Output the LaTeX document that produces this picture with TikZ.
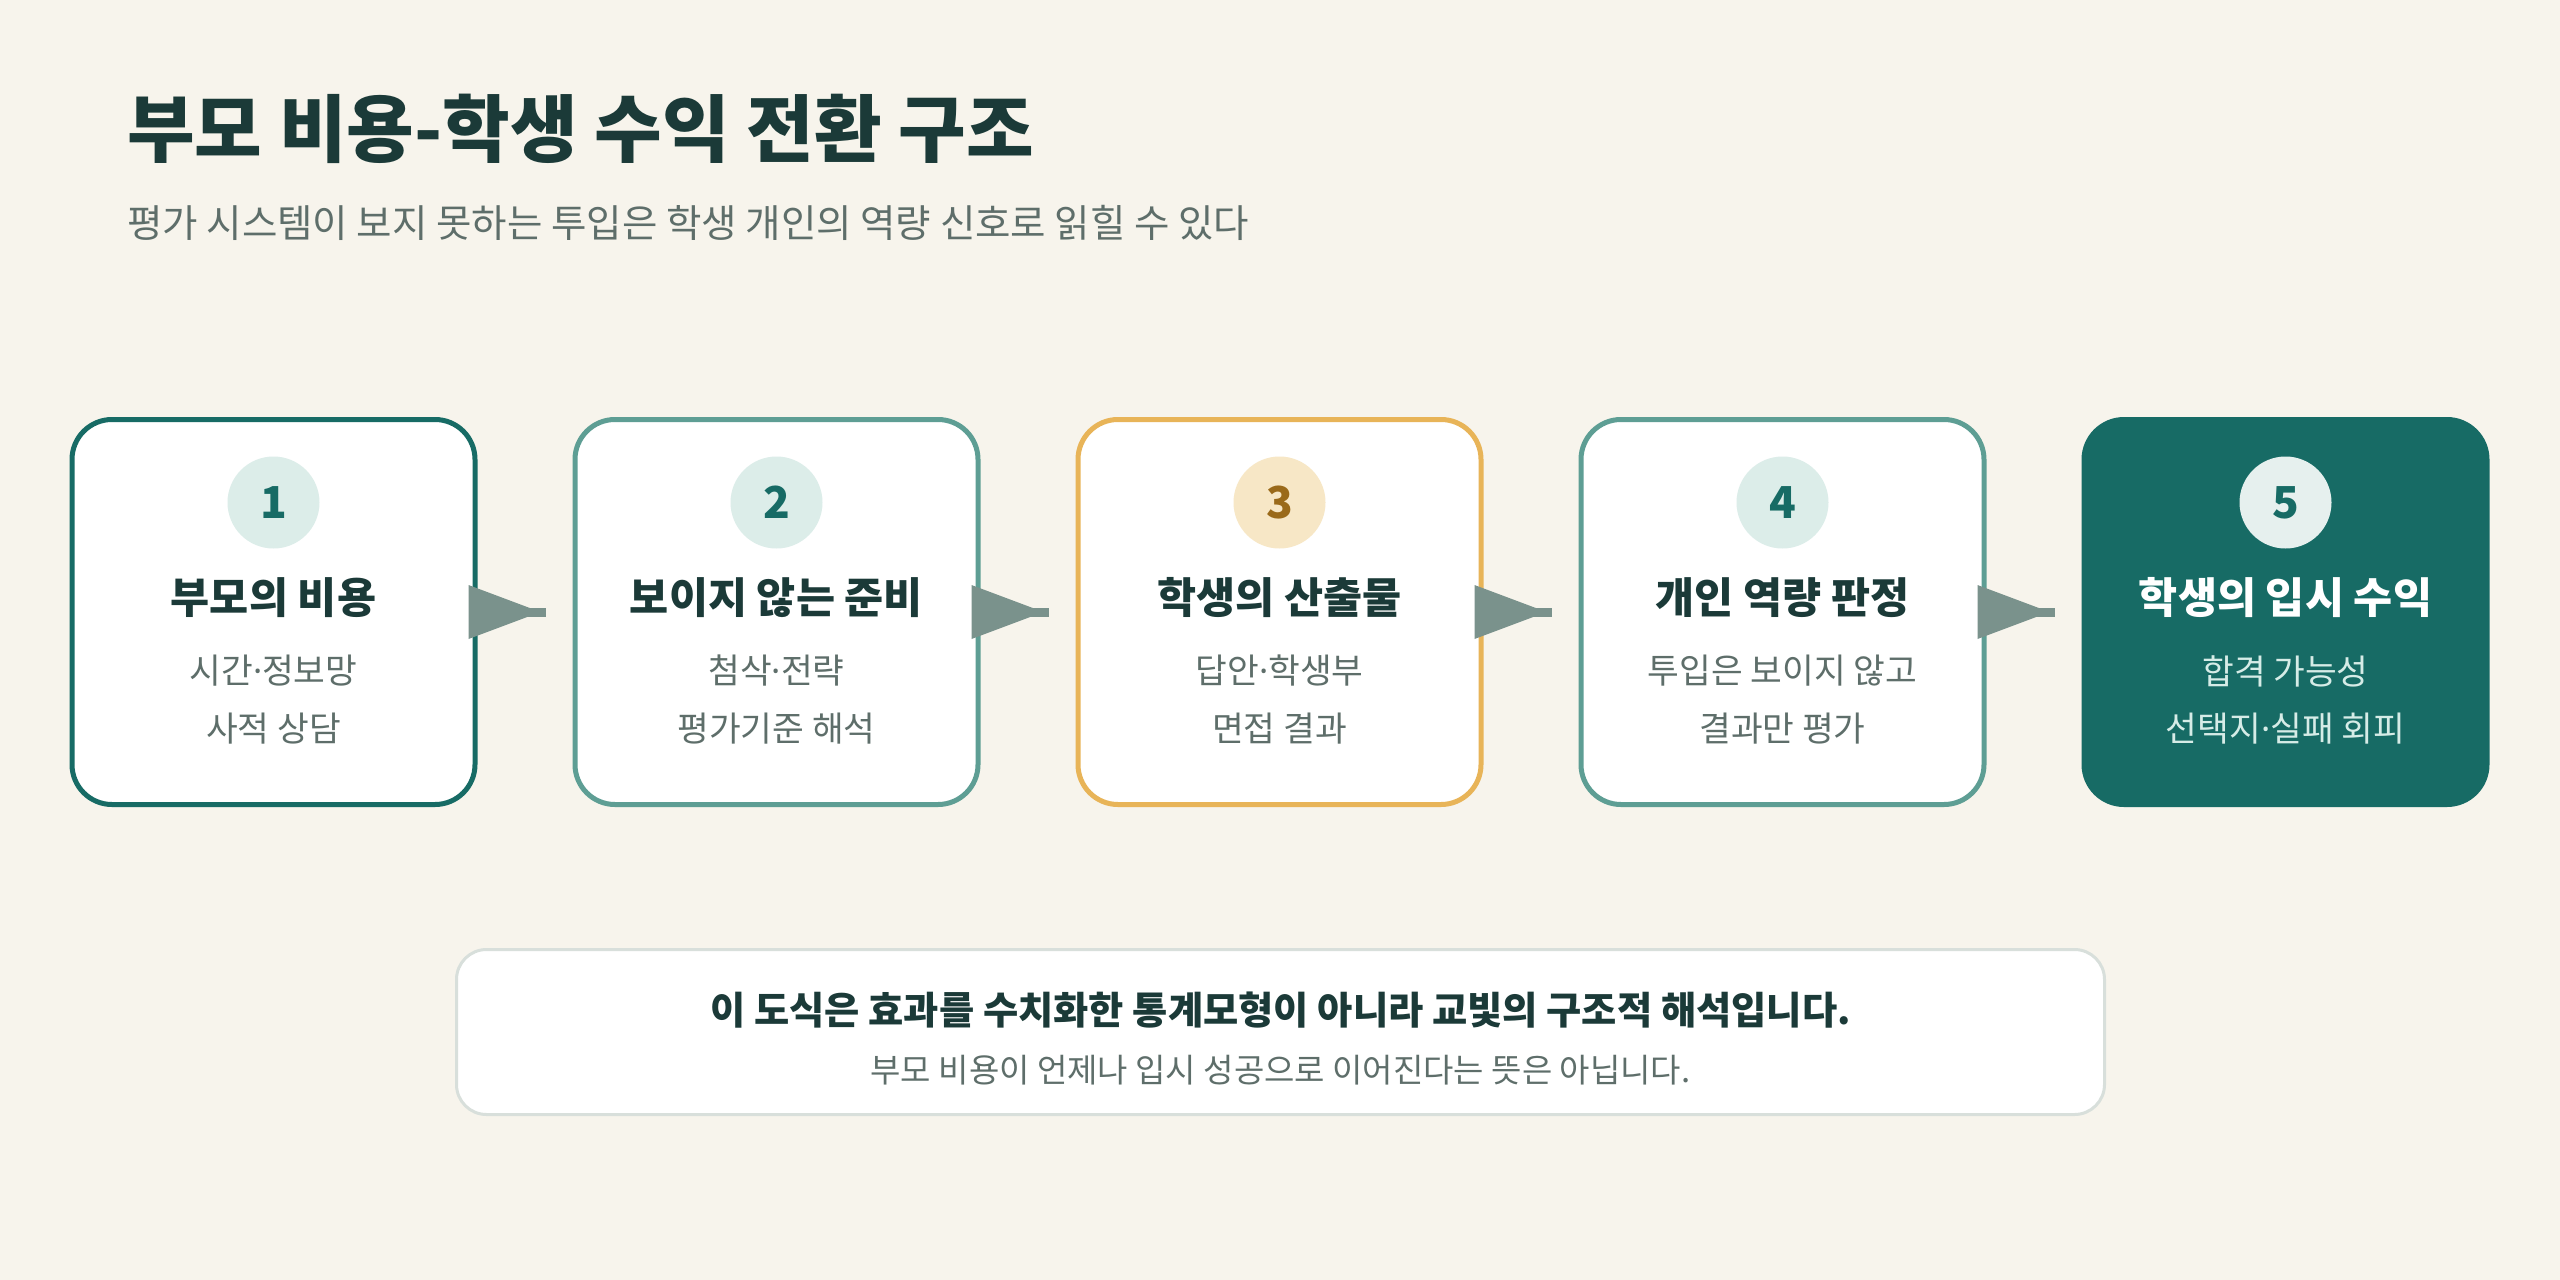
\documentclass[tikz,border=0pt]{standalone}
\usepackage{fontspec}
\setmainfont{Noto Sans CJK KR}
\newfontfamily\dotfont{Noto Sans}
\newcommand{\mdot}{{\dotfont ·}}
\definecolor{paper}{HTML}{F7F4EC}
\definecolor{ink}{HTML}{1B3A38}
\definecolor{inksoft}{HTML}{5E6E6A}
\definecolor{tealdark}{HTML}{176B65}
\definecolor{tealsoft}{HTML}{5E9E94}
\definecolor{gold}{HTML}{E8B458}
\definecolor{mint}{HTML}{DCEDE9}
\definecolor{cream}{HTML}{F7E7C6}
\definecolor{brown}{HTML}{9A6A1A}
\definecolor{frost}{HTML}{E6F0EE}
\definecolor{mintline}{HTML}{D6ECE7}
\definecolor{arrowc}{HTML}{7A928C}
\definecolor{rim}{HTML}{D8DFDB}
\tikzset{
    card/.style={rectangle, rounded corners=40pt, minimum width=403pt,
        minimum height=385pt, line width=5pt, fill=white},
    badge/.style={circle, minimum size=92pt, inner sep=0pt, fill=mint,
        text=tealdark, font=\fontsize{44}{44}\selectfont\bfseries},
    head/.style={inner sep=0pt, text=ink, font=\fontsize{42.5}{50}\selectfont\bfseries},
    subline/.style={inner sep=0pt, text=inksoft, font=\fontsize{34.5}{42}\selectfont},
    stem/.style={draw=arrowc, line width=9pt},
    tip/.style={fill=arrowc},
}

\begin{document}
\begin{tikzpicture}[x=1pt, y=-1pt]
    \fill[paper] (0,0) rectangle (2560,1280);
    \useasboundingbox (0,0) rectangle (2560,1280);

    \node[anchor=west, inner sep=0pt, text=ink,
        font=\fontsize{73.5}{80}\selectfont\bfseries] (title) at (127,129)
        {부모 비용-학생 수익 전환 구조};
    \node[anchor=west, inner sep=0pt, text=inksoft,
        font=\fontsize{38.5}{46}\selectfont] (subtitle) at (127,223)
        {평가 시스템이 보지 못하는 투입은 학생 개인의 역량 신호로 읽힐 수 있다};

    % stage 1
    \node[card, draw=tealdark] (b1) at (273.5,612) {};
    \node[badge] (n1) at (273.5,502.5) {1};
    \node[head] (h1) at (273.5,597.5) {부모의 비용};
    \node[subline] (s1a) at (273.5,671) {시간\mdot 정보망};
    \node[subline] (s1b) at (273.5,729) {사적 상담};

    % stage 2
    \node[card, draw=tealsoft] (b2) at (776.5,612) {};
    \node[badge] (n2) at (776.5,502.5) {2};
    \node[head] (h2) at (776.5,597.5) {보이지 않는 준비};
    \node[subline] (s2a) at (776.5,671) {첨삭\mdot 전략};
    \node[subline] (s2b) at (776.5,729) {평가기준 해석};

    % stage 3
    \node[card, draw=gold] (b3) at (1279.5,612) {};
    \node[badge, fill=cream, text=brown] (n3) at (1279.5,502.5) {3};
    \node[head] (h3) at (1279.5,597.5) {학생의 산출물};
    \node[subline] (s3a) at (1279.5,671) {답안\mdot 학생부};
    \node[subline] (s3b) at (1279.5,729) {면접 결과};

    % stage 4
    \node[card, draw=tealsoft] (b4) at (1782.5,612) {};
    \node[badge] (n4) at (1782.5,502.5) {4};
    \node[head] (h4) at (1782.5,597.5) {개인 역량 판정};
    \node[subline] (s4a) at (1782.5,671) {투입은 보이지 않고};
    \node[subline] (s4b) at (1782.5,729) {결과만 평가};

    % stage 5
    \node[card, draw=tealdark, fill=tealdark] (b5) at (2285.5,612) {};
    \node[badge, fill=frost] (n5) at (2285.5,502.5) {5};
    \node[head, text=white] (h5) at (2285.5,597.5) {학생의 입시 수익};
    \node[subline, text=mintline] (s5a) at (2285.5,671) {합격 가능성};
    \node[subline, text=mintline] (s5b) at (2285.5,729) {선택지\mdot 실패 회피};

    % arrows
    \draw[stem] (b1.east) -- ([xshift=-27pt]b2.west);
    \fill[tip] ([xshift=-9pt]b1.east) -- ++(0,-27) -- ++(72,27) -- ++(-72,27) -- cycle;
    \draw[stem] (b2.east) -- ([xshift=-27pt]b3.west);
    \fill[tip] ([xshift=-9pt]b2.east) -- ++(0,-27) -- ++(72,27) -- ++(-72,27) -- cycle;
    \draw[stem] (b3.east) -- ([xshift=-27pt]b4.west);
    \fill[tip] ([xshift=-9pt]b3.east) -- ++(0,-27) -- ++(72,27) -- ++(-72,27) -- cycle;
    \draw[stem] (b4.east) -- ([xshift=-27pt]b5.west);
    \fill[tip] ([xshift=-9pt]b4.east) -- ++(0,-27) -- ++(72,27) -- ++(-72,27) -- cycle;

    % note
    \node[rectangle, rounded corners=30pt, minimum width=1648pt, minimum height=165pt,
        draw=rim, line width=3pt, fill=white] (note) at (1280.5,1032) {};
    \node[inner sep=0pt, text=ink, font=\fontsize{38.3}{46}\selectfont\bfseries]
        (note1) at (1280.5,1010)
        {이 도식은 효과를 수치화한 통계모형이 아니라 교빛의 구조적 해석입니다.};
    \node[inner sep=0pt, text=inksoft, font=\fontsize{33}{40}\selectfont]
        (note2) at (1280.5,1070)
        {부모 비용이 언제나 입시 성공으로 이어진다는 뜻은 아닙니다.};
\end{tikzpicture}
\end{document}
